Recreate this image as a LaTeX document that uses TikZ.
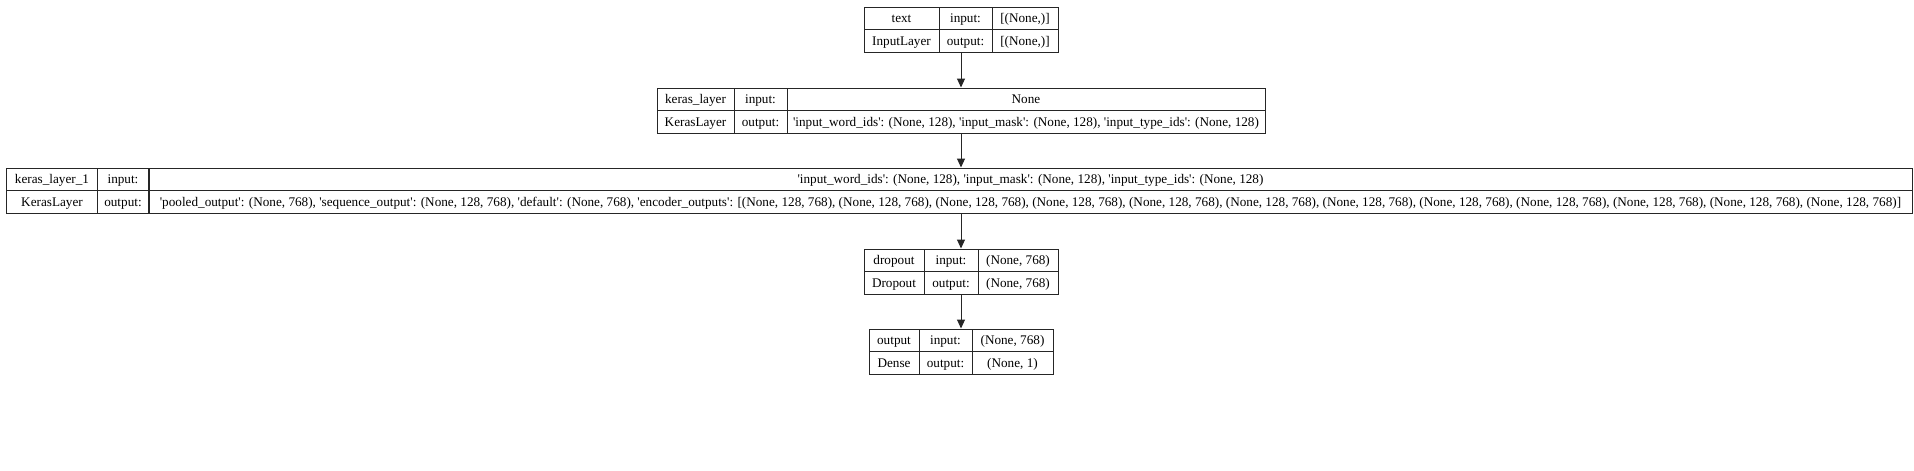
\documentclass[tikz,border=0pt]{standalone}
\usepackage{fontspec}
\setmainfont{Liberation Serif}
\usetikzlibrary{arrows.meta,positioning,matrix}

\newcommand{\sq}{\XeTeXglyph\XeTeXcharglyph"27\relax}
\newcommand{\enc}{(None, 128, 768)}
\newcommand{\noshape}{[(None,)]}

\tikzset{
  layer/.style={matrix of nodes, inner sep=0pt, outer sep=0pt,
    column sep=-1pt, row sep=-1pt,
    nodes={draw=black!85, line width=1pt, outer sep=0pt, inner sep=0pt,
      minimum height=22.5pt, text height=11pt, text depth=2pt, anchor=center,
      font=\fontsize{13.2pt}{15.5pt}\selectfont}},
  cols/.style n args={3}{column 1/.style={nodes={minimum width=#1}},
    column 2/.style={nodes={minimum width=#2}},
    column 3/.style={nodes={minimum width=#3}}},
  flow/.style={draw=black!85, line width=1pt, -{Triangle[length=9pt,width=8pt]}},
}

\begin{document}
\begin{tikzpicture}[x=1pt, y=1pt]
            \useasboundingbox (0,0) rectangle (1914,-471);

            \matrix[layer, cols={75pt}{53pt}{66pt}] (text) at (961,-29.5) {
                text & input: & \noshape \\
                InputLayer & output: & \noshape \\
            };
            \matrix[layer, cols={77pt}{53pt}{478pt}, below=35pt of text] (keras) {
                keras\_layer & input: & None \\
                KerasLayer & output: & \sq input\_word\_ids\sq: (None, 128), \sq input\_mask\sq: (None, 128), \sq input\_type\_ids\sq: (None, 128) \\
            };
            \matrix[layer, cols={90pt}{52pt}{1763pt}, below=34pt of keras, xshift=-1.5pt] (keras1) {
                keras\_layer\_1 & input: & \sq input\_word\_ids\sq: (None, 128), \sq input\_mask\sq: (None, 128), \sq input\_type\_ids\sq: (None, 128) \\
                KerasLayer & output: & \sq pooled\_output\sq: (None, 768), \sq sequence\_output\sq: (None, 128, 768), \sq default\sq: (None, 768), \sq encoder\_outputs\sq: [\enc, \enc, \enc, \enc, \enc, \enc, \enc, \enc, \enc, \enc, \enc, \enc] \\
            };
            \matrix[layer, cols={60pt}{54pt}{80pt}, below=35pt of keras1.south-|text.south] (dropout) {
                dropout & input: & (None, 768) \\
                Dropout & output: & (None, 768) \\
            };
            \matrix[layer, cols={50pt}{53pt}{81pt}, below=34pt of dropout] (output) {
                output & input: & (None, 768) \\
                Dense & output: & (None, 1) \\
            };

            \draw[flow] (text) -- (keras);
            \draw[flow] (keras.south) -- (keras1.north-|keras.south);
            \draw[flow] (keras1.south-|dropout.north) -- (dropout);
            \draw[flow] (dropout) -- (output);
        \end{tikzpicture}
\end{document}
